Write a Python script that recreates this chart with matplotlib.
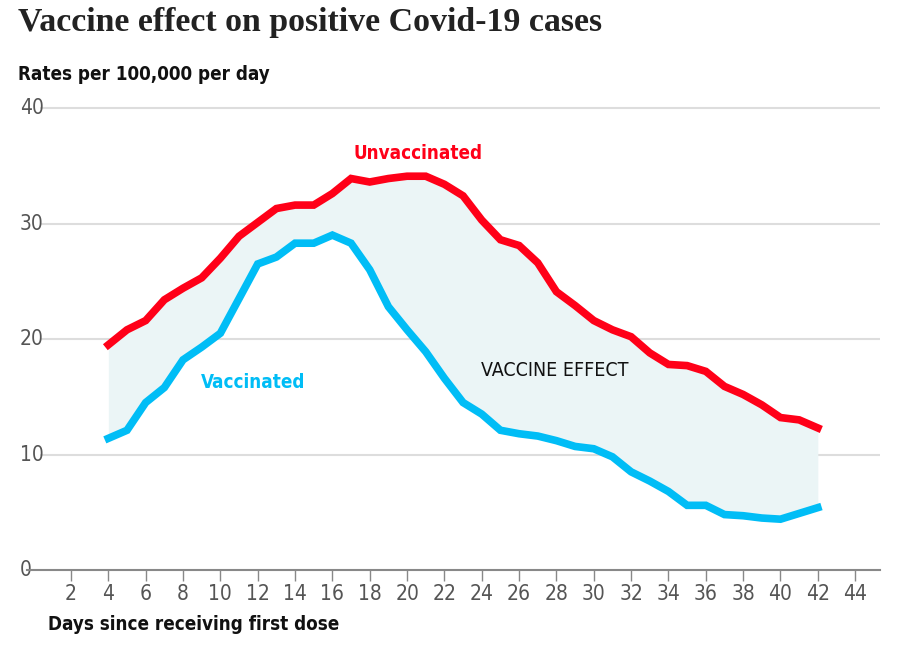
import numpy as np
import matplotlib.pyplot as plt

# data
days = list(range(4, 43))
unvaccinated = [19.5, 20.8, 21.6, 23.4, 24.4, 25.3, 27.0, 28.9, 30.1, 31.3,
                31.6, 31.6, 32.6, 33.9, 33.6, 33.9, 34.1, 34.1, 33.4, 32.4,
                30.3, 28.6, 28.1, 26.6, 24.1, 22.9, 21.6, 20.8, 20.2, 18.8,
                17.8, 17.7, 17.2, 15.9, 15.2, 14.3, 13.2, 13.0, 12.3]
vaccinated = [11.4, 12.1, 14.5, 15.8, 18.2, 19.3, 20.5, 23.5, 26.5, 27.1,
              28.3, 28.3, 29.0, 28.3, 26.0, 22.8, 20.8, 18.9, 16.6, 14.5,
              13.5, 12.1, 11.8, 11.6, 11.2, 10.7, 10.5, 9.8, 8.5, 7.7,
              6.8, 5.6, 5.6, 4.8, 4.7, 4.5, 4.4, 4.9, 5.4]
x_ticks = list(range(2, 45, 2))
y_ticks = [0, 10, 20, 30, 40]

RED = '#ff0018'
BLUE = '#00bdf6'
FILL = '#ebf5f6'
narrow = dict(family='DejaVu Sans', fontstretch='condensed')

fig = plt.figure(figsize=(9.16, 6.45), dpi=100)
ax = fig.add_axes([40 / 916, 75 / 645, 840 / 916, 470 / 645])

ax.fill_between(days, vaccinated, unvaccinated, color=FILL, lw=0, zorder=1)
ax.plot(days, unvaccinated, color=RED, lw=5.5, zorder=3, solid_joinstyle='miter')
ax.plot(days, vaccinated, color=BLUE, lw=5.5, zorder=3, solid_joinstyle='miter')

ax.set_xlim(0.34, 45.33)
ax.set_ylim(0, 40.7)

for s in ax.spines.values():
    s.set_visible(False)
for yv in y_ticks[1:]:
    ax.axhline(yv, color='#dddddd', lw=1.5, zorder=0)
ax.axhline(0, xmin=-13 / 840, xmax=1, color='#888888', lw=1.5, zorder=2, clip_on=False)

ax.set_xticks(x_ticks)
ax.set_xticklabels([str(t) for t in x_ticks], fontsize=15, color='#555555', **narrow)
ax.tick_params(axis='x', length=8, width=1, color='#888888', pad=2)
ax.set_yticks(y_ticks)
ax.set_yticklabels([str(t) for t in y_ticks], fontsize=15, color='#555555',
                   ha='left', va='center', **narrow)
ax.tick_params(axis='y', length=0, pad=14.5)

ax.text(20.6, 36.1, 'Unvaccinated', color=RED, fontsize=13.5,
        fontweight='bold', ha='center', va='center', **narrow)
ax.text(11.75, 16.2, 'Vaccinated', color=BLUE, fontsize=13.5,
        fontweight='bold', ha='center', va='center', **narrow)
ax.text(27.9, 17.3, 'VACCINE EFFECT', color='#111111', fontsize=14,
        ha='center', va='center', **narrow)

fig.text(18 / 916, 1 - 22 / 645, 'Vaccine effect on positive Covid-19 cases',
         family=['Liberation Serif', 'DejaVu Serif'], fontweight='bold', fontsize=24.4,
         ha='left', va='center', color='#222222')
fig.text(18 / 916, 1 - 75 / 645, 'Rates per 100,000 per day',
         fontweight='bold', fontsize=13.5, ha='left', va='center', color='#111111', **narrow)
fig.text(48 / 916, 1 - 625 / 645, 'Days since receiving first dose',
         fontweight='bold', fontsize=13.5, ha='left', va='center', color='#111111', **narrow)

fig.savefig('out.png', dpi=100)
